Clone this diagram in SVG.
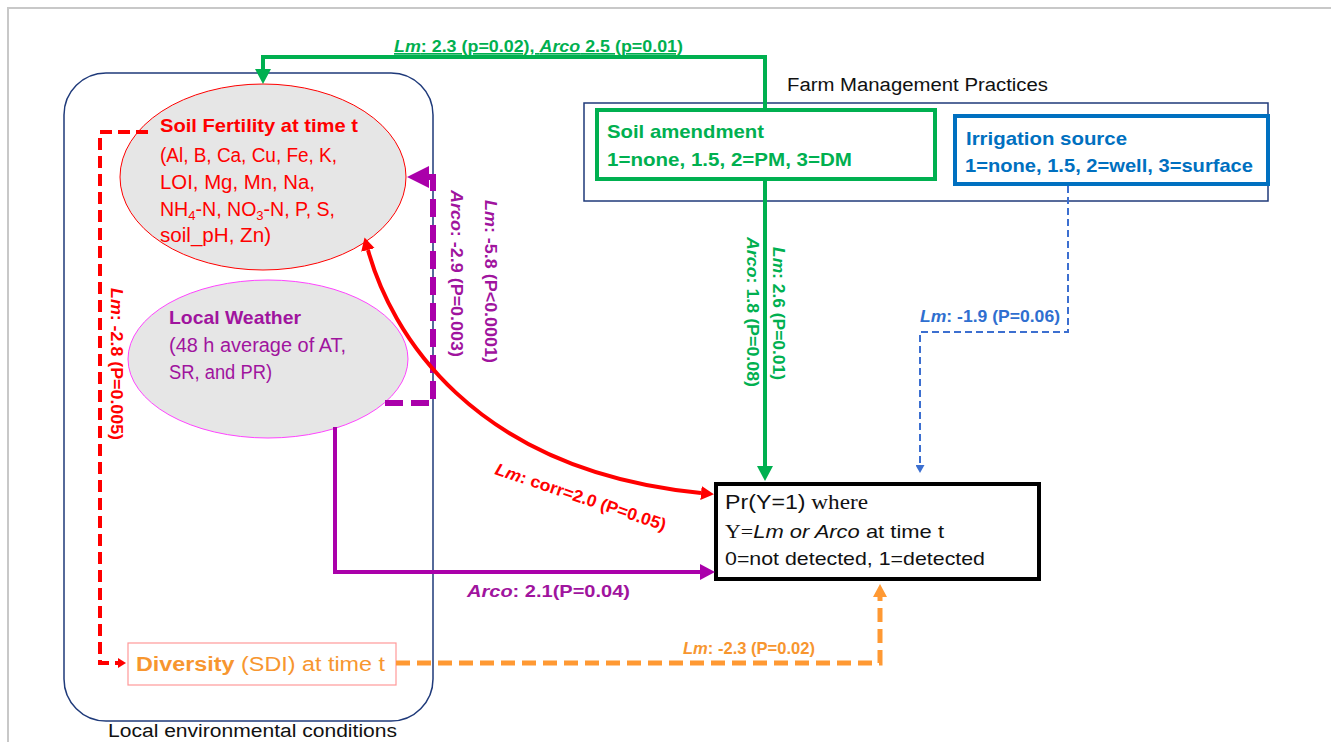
<svg xmlns="http://www.w3.org/2000/svg" width="1331" height="742" viewBox="0 0 1331 742">
<style>
text{font-family:"Liberation Sans",Arial,sans-serif;}
.serif{font-family:"Liberation Serif","Times New Roman",serif;}
.b{font-weight:bold;}
.i{font-style:italic;}
.red{fill:#ff0000;}
.pur{fill:#a0149e;}
.grn{fill:#00b050;}
.blu{fill:#0070c0;}
.bl2{fill:#2f6fd0;}
.org{fill:#f7962f;}
.blk{fill:#111;}
</style>
<defs>
<marker id="aGreen" markerUnits="userSpaceOnUse" markerWidth="16" markerHeight="16" refX="0" refY="8" orient="auto"><path d="M0,0 L15,8 L0,16 z" fill="#00b050"/></marker>
<marker id="aBlue" markerUnits="userSpaceOnUse" markerWidth="9" markerHeight="9" refX="0" refY="4.5" orient="auto"><path d="M0,0 L8,4.5 L0,9 z" fill="#3c6fd0"/></marker>
<marker id="aRedS" markerUnits="userSpaceOnUse" markerWidth="10" markerHeight="10" refX="0" refY="5" orient="auto"><path d="M0,0 L8,5 L0,10 z" fill="#ff0000"/></marker>
<marker id="aRed" markerUnits="userSpaceOnUse" markerWidth="14" markerHeight="14" refX="0" refY="7" orient="auto-start-reverse"><path d="M0,0 L13,7 L0,14 z" fill="#ff0000"/></marker>
<marker id="aPurBig" markerUnits="userSpaceOnUse" markerWidth="22" markerHeight="22" refX="0" refY="11" orient="auto"><path d="M0,0 L22,11 L0,22 z" fill="#aa00aa"/></marker>
<marker id="aPur" markerUnits="userSpaceOnUse" markerWidth="16" markerHeight="16" refX="0" refY="8" orient="auto"><path d="M0,0 L15,8 L0,16 z" fill="#aa00aa"/></marker>
<marker id="aOrg" markerUnits="userSpaceOnUse" markerWidth="14" markerHeight="14" refX="0" refY="7" orient="auto"><path d="M0,0 L13,7 L0,14 z" fill="#ff9933"/></marker>
</defs>
<rect width="1331" height="742" fill="#ffffff"/>
<path d="M8,742 V8 H1331" fill="none" stroke="#c8c8c8" stroke-width="2"/>

<g id="local-env">
<rect x="64" y="73" width="369" height="648" rx="42" fill="none" stroke="#1f3a7a" stroke-width="1.5"/>
<text x="108" y="737" font-size="18" class="blk" textLength="289" lengthAdjust="spacingAndGlyphs">Local environmental conditions</text>
</g>

<g id="soil-fertility">
<ellipse cx="263" cy="177" rx="143" ry="93" fill="#e6e6e6" stroke="#ff0000" stroke-width="1"/>
<text x="160" y="132" font-size="19" class="red b" textLength="198" lengthAdjust="spacingAndGlyphs">Soil Fertility at time t</text>
<text x="160" y="162" font-size="19.5" class="red" textLength="177" lengthAdjust="spacingAndGlyphs">(Al, B, Ca, Cu, Fe, K,</text>
<text x="160" y="189" font-size="19.5" class="red" textLength="155" lengthAdjust="spacingAndGlyphs">LOI, Mg, Mn, Na,</text>
<text x="160" y="216" font-size="19.5" class="red" textLength="175" lengthAdjust="spacingAndGlyphs">NH<tspan font-size="13" dy="4">4</tspan><tspan dy="-4">-N, NO</tspan><tspan font-size="13" dy="4">3</tspan><tspan dy="-4">-N, P, S,</tspan></text>
<text x="160" y="242" font-size="19.5" class="red" textLength="111" lengthAdjust="spacingAndGlyphs">soil_pH, Zn)</text>
</g>

<g id="local-weather">
<ellipse cx="268" cy="359" rx="140" ry="79" fill="#e6e6e6" stroke="#ff44ff" stroke-width="1"/>
<text x="169" y="324" font-size="19" class="pur b" textLength="132" lengthAdjust="spacingAndGlyphs">Local Weather</text>
<text x="169" y="352" font-size="19.5" class="pur" textLength="177" lengthAdjust="spacingAndGlyphs">(48 h average of AT,</text>
<text x="169" y="379" font-size="19.5" class="pur" textLength="103" lengthAdjust="spacingAndGlyphs">SR, and PR)</text>
</g>

<g id="diversity">
<rect x="128" y="643" width="268" height="42" fill="#ffffff" stroke="#ff9999" stroke-width="1.2"/>
<text x="136" y="671" font-size="20" class="org" textLength="249" lengthAdjust="spacingAndGlyphs"><tspan class="b">Diversity</tspan> (SDI) at time t</text>
</g>

<g id="farm-management">
<text x="787" y="91" font-size="18" class="blk" textLength="261" lengthAdjust="spacingAndGlyphs">Farm Management Practices</text>
<rect x="584" y="103" width="684" height="98" fill="#ffffff" stroke="#1f3a7a" stroke-width="1.5"/>
</g>

<g id="soil-amendment">
<rect x="597" y="110" width="338" height="69" fill="#ffffff" stroke="#00b050" stroke-width="4"/>
<text x="607" y="138" font-size="19" class="grn b" textLength="157" lengthAdjust="spacingAndGlyphs">Soil amendment</text>
<text x="607" y="166" font-size="19" class="grn b" textLength="245" lengthAdjust="spacingAndGlyphs">1=none, 1.5, 2=PM, 3=DM</text>
</g>

<g id="irrigation-source">
<rect x="955" y="116" width="313" height="68" fill="#ffffff" stroke="#0070c0" stroke-width="4"/>
<text x="966" y="145" font-size="19" class="blu b" textLength="161" lengthAdjust="spacingAndGlyphs">Irrigation source</text>
<text x="965" y="172" font-size="19" class="blu b" textLength="288" lengthAdjust="spacingAndGlyphs">1=none, 1.5, 2=well, 3=surface</text>
</g>

<g id="outcome">
<rect x="716" y="484" width="323" height="95" fill="#ffffff" stroke="#000000" stroke-width="4"/>
<text x="725" y="509" font-size="20" class="blk" textLength="143" lengthAdjust="spacingAndGlyphs">Pr(Y=1)<tspan class="serif"> where</tspan></text>
<text x="725" y="538" font-size="19" class="blk" textLength="219" lengthAdjust="spacingAndGlyphs"><tspan class="serif">Y=</tspan><tspan class="i">Lm or Arco</tspan> at time t</text>
<text x="725" y="565" font-size="19" class="blk" textLength="260" lengthAdjust="spacingAndGlyphs">0=not detected, 1=detected</text>
</g>

<g id="connectors" fill="none">
<path d="M765,110 V57 H263 V69" stroke="#00b050" stroke-width="4" marker-end="url(#aGreen)"/>
<path d="M765,179 V466" stroke="#00b050" stroke-width="4" marker-end="url(#aGreen)"/>
<path d="M1068,186 V332 H920 V465" stroke="#3c6fd0" stroke-width="2" stroke-dasharray="7,4" marker-end="url(#aBlue)"/>
<path d="M148,132 H100 V663 H118" stroke="#ff0000" stroke-width="4" stroke-dasharray="12,6" marker-end="url(#aRedS)"/>
<path d="M385,403 H433 V177 H429" stroke="#aa00aa" stroke-width="6" stroke-dasharray="18,8" marker-end="url(#aPurBig)"/>
<path d="M335,427 V572 H700" stroke="#aa00aa" stroke-width="4" marker-end="url(#aPur)"/>
<path d="M396,663 H880 V597" stroke="#ff9933" stroke-width="5" stroke-dasharray="14,7" marker-end="url(#aOrg)"/>
<path d="M368,250 C390,330 470,470 701,493" stroke="#ff0000" stroke-width="4" marker-start="url(#aRed)" marker-end="url(#aRed)"/>
</g>

<g id="connector-labels" font-size="17">
<text x="394" y="52" class="grn b" textLength="289" lengthAdjust="spacingAndGlyphs" text-decoration="underline"><tspan class="i">Lm</tspan>: 2.3 (p=0.02), <tspan class="i">Arco</tspan> 2.5 (p=0.01)</text>
<text transform="translate(773,247) rotate(90)" class="grn b" textLength="133" lengthAdjust="spacingAndGlyphs"><tspan class="i">Lm</tspan>: 2.6 (P=0.01)</text>
<text transform="translate(747,237) rotate(90)" class="grn b" textLength="150" lengthAdjust="spacingAndGlyphs"><tspan class="i">Arco</tspan>: 1.8 (P=0.08)</text>
<text x="920" y="322" class="bl2 b" textLength="140" lengthAdjust="spacingAndGlyphs"><tspan class="i">Lm</tspan>: -1.9 (P=0.06)</text>
<text transform="translate(111,288) rotate(90)" class="red b" textLength="152" lengthAdjust="spacingAndGlyphs"><tspan class="i">Lm</tspan>: -2.8 (P=0.005)</text>
<text transform="translate(451,190) rotate(90)" class="pur b" textLength="167" lengthAdjust="spacingAndGlyphs"><tspan class="i">Arco</tspan>: -2.9 (P=0.003)</text>
<text transform="translate(485,200) rotate(90)" class="pur b" textLength="163" lengthAdjust="spacingAndGlyphs"><tspan class="i">Lm</tspan>: -5.8 (P&lt;0.0001)</text>
<text transform="translate(494,474) rotate(18.5)" class="red b" textLength="179" lengthAdjust="spacingAndGlyphs"><tspan class="i">Lm</tspan>: corr=2.0 (P=0.05)</text>
<text x="467" y="597" class="pur b" textLength="163" lengthAdjust="spacingAndGlyphs"><tspan class="i">Arco</tspan>: 2.1(P=0.04)</text>
<text x="683" y="654" class="org b" textLength="132" lengthAdjust="spacingAndGlyphs"><tspan class="i">Lm</tspan>: -2.3 (P=0.02)</text>
</g>
</svg>
